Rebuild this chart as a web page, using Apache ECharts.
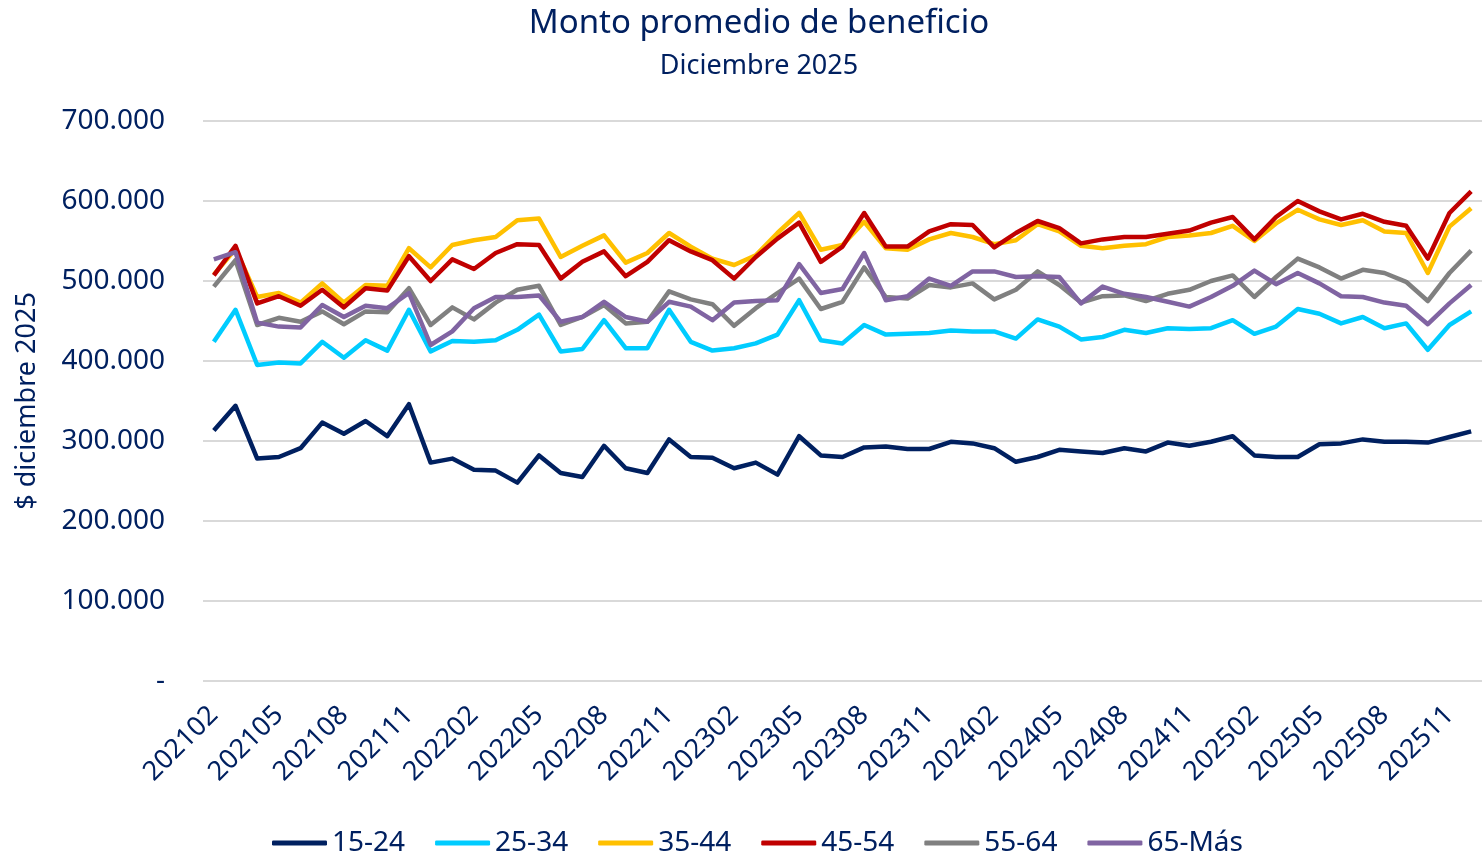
<!DOCTYPE html>
<html>
<head>
<meta charset="utf-8">
<script src="https://cdn.jsdelivr.net/npm/echarts@6/dist/echarts.min.js"></script>
<style>
  html, body { margin: 0; padding: 0; background: #fff; }
  #chart { width: 1482px; height: 855px; }
</style>
</head>
<body>
<div id="chart"></div>
<script>
// periodos mensuales
var periodos = [
	'202102','202103','202104','202105','202106','202107','202108','202109','202110','202111','202112',
	'202201','202202','202203','202204','202205','202206','202207','202208','202209','202210','202211','202212',
	'202301','202302','202303','202304','202305','202306','202307','202308','202309','202310','202311','202312',
	'202401','202402','202403','202404','202405','202406','202407','202408','202409','202410','202411','202412',
	'202501','202502','202503','202504','202505','202506','202507','202508','202509','202510','202511','202512'
];

// montos en miles de pesos
var tramo1524 = [313,344,278,280,291,323,309,325,306,346,273,278,264,263,248,282,260,255,294,266,
	260,302,280,279,266,273,258,306,282,280,292,293,290,290,299,297,291,274,280,289,
	287,285,291,287,298,294,299,306,282,280,280,296,297,302,299,299,298,305,312];
var tramo2534 = [424,464,395,398,397,424,404,426,413,464,412,425,424,426,439,458,412,415,451,416,
	416,464,424,413,416,422,433,476,426,422,445,433,434,435,438,437,437,428,452,443,
	427,430,439,435,441,440,441,451,434,443,465,459,447,455,441,447,414,445,462];
var tramo3544 = [508,540,480,485,473,497,473,495,494,541,517,545,551,555,576,578,530,544,557,523,
	535,560,543,528,520,532,560,585,539,545,574,541,539,552,560,555,546,551,571,562,
	544,541,544,546,555,557,560,569,550,572,589,577,570,576,562,560,510,568,591];
var tramo4554 = [507,544,472,481,469,489,467,491,488,531,500,527,515,535,546,545,503,524,537,506,
	524,551,537,526,503,530,553,573,524,543,585,543,543,562,571,570,542,560,575,566,
	547,552,555,555,559,563,573,580,552,580,600,587,577,584,574,569,528,585,612];
var tramo5564 = [493,526,445,454,449,462,446,462,461,491,445,467,452,473,489,494,445,455,470,447,
	449,487,477,471,444,466,485,503,465,474,517,480,478,495,492,497,477,489,512,495,
	473,481,482,475,484,489,500,507,480,505,528,517,503,514,510,499,475,510,538];
var tramo65mas = [527,536,448,443,442,470,455,469,466,485,420,437,466,480,480,482,449,455,474,455,
	449,474,468,451,473,475,476,521,485,490,535,476,481,503,494,512,512,505,506,505,
	472,493,484,480,474,468,480,494,513,496,510,497,481,480,473,469,446,472,495];

var tramos = ['15-24','25-34','35-44','45-54','55-64','65-Más'];
var colores = ['#002060','#00CCFF','#FFC000','#C00000','#808080','#8064A2'];
var datos = [tramo1524, tramo2534, tramo3544, tramo4554, tramo5564, tramo65mas];

var azul = '#002060';
var fuente = 'Noto Sans';

function miles(v) {
	if (v === 0) return '-';
	return String(v).replace(/\B(?=(\d{3})+(?!\d))/g, '.');
}

var series = [];
for (var i = 0; i < tramos.length; i++) {
	series.push({
		name : tramos[i],
		type : 'line',
		symbol : 'none',
		smooth : false,
		animation : false,
		lineStyle : { width : 4.5, color : colores[i], join : 'round' },
		itemStyle : { color : colores[i] },
		data : datos[i].map(function(v) { return v * 1000; })
	});
}

var chart = echarts.init(document.getElementById('chart'));
chart.setOption({
	backgroundColor : '#ffffff',
	title : [ {
		text : 'Monto promedio de beneficio',
		left : 754,
		textAlign : 'center',
		top : 2,
		textStyle : { color : azul, fontFamily : fuente, fontWeight : 'normal', fontSize : 33 }
	}, {
		text : 'Diciembre 2025',
		left : 754,
		textAlign : 'center',
		top : 48,
		textStyle : { color : azul, fontFamily : fuente, fontWeight : 'normal', fontSize : 27 }
	} ],
	legend : {
		bottom : -7,
		left : 267,
		icon : 'roundRect',
		itemWidth : 55,
		itemHeight : 5,
		itemGap : 30,
		textStyle : { color : azul, fontFamily : fuente, fontSize : 28 },
		data : tramos
	},
	grid : {
		left : 203,
		top : 121,
		width : 1288,
		height : 560,
		containLabel : false
	},
	xAxis : {
		type : 'category',
		data : periodos,
		boundaryGap : true,
		axisLine : { show : false },
		axisTick : { show : false },
		axisLabel : {
			interval : 2,
			rotate : 45,
			margin : 30,
			color : azul,
			fontFamily : fuente,
			fontSize : 27
		}
	},
	yAxis : {
		type : 'value',
		min : 0,
		max : 700000,
		interval : 100000,
		name : '$ diciembre 2025',
		nameLocation : 'middle',
		nameRotate : 90,
		nameGap : 162,
		nameTextStyle : { color : azul, fontFamily : fuente, fontSize : 27 },
		axisLine : { show : false },
		axisTick : { show : false },
		axisLabel : {
			margin : 38,
			color : azul,
			fontFamily : fuente,
			fontSize : 28,
			formatter : miles
		},
		splitLine : { lineStyle : { color : '#D9D9D9', width : 2 } }
	},
	series : series
});
</script>
</body>
</html>
